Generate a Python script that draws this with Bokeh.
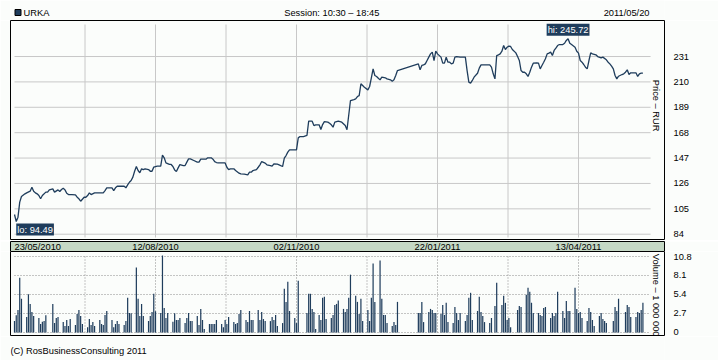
import math
from bokeh.plotting import figure
from bokeh.layouts import column
from bokeh.models import Range1d, FixedTicker, Label
from bokeh.core.properties import value
from bokeh.embed import file_html
from bokeh.resources import INLINE

# ---------------- texts ----------------
ticker_name = "URKA"
session_text = "Session: 10:30 – 18:45"
date_text = "2011/05/20"
credit_text = "(C) RosBusinessConsulting 2011"
price_title = "Price – RUR"
volume_title = "Volume – 1 000 000"

# ---------------- axes ----------------
date_tick_days = [0, 81, 162, 243, 324]          # days since 24/05/2010
date_labels = ["23/05/2010", "12/08/2010", "02/11/2010", "22/01/2011", "13/04/2011"]
price_ticks = [84, 105, 126, 147, 168, 189, 210, 231]
volume_ticks = [0, 2.7, 5.4, 8.1, 10.8]
volume_tick_labels = ["0", "2.7", "5.4", "8.1", "10.8"]

# ---------------- price (RUR), day index ----------------
price_day = [
    0, 1, 2, 3, 4, 6, 7, 9, 10, 11, 12, 13, 14, 15, 16, 18, 19, 20, 22, 23,
    25, 26, 27, 28, 29, 30, 31, 33, 35, 36, 37, 38, 40, 41, 42, 43, 44, 46, 47, 49,
    51, 52, 53, 55, 56, 57, 58, 59, 61, 63, 64, 65, 66, 67, 68, 69, 70, 71, 72, 73,
    74, 75, 77, 78, 79, 80, 82, 84, 85, 86, 87, 89, 90,
    91, 92, 93, 94, 95, 97, 98, 99, 100, 101, 103, 105, 106, 107, 108, 110, 111, 113, 114, 115,
    116, 117, 119, 121, 122, 123, 124, 126, 127, 129, 130, 132, 134, 135, 136, 137, 139, 140, 141, 142,
    144, 145, 147, 148, 149, 151, 152, 154, 155, 156, 157, 158, 162, 163, 164, 166, 168, 169, 171, 172,
    173, 175, 176, 177, 178, 180, 181, 182, 183, 184,
    186, 188, 190, 191,
    193, 195, 196, 197, 198, 199, 200, 201, 203, 204, 205, 206, 207, 208, 209, 210, 211, 213, 214, 216,
    217, 218, 219, 220, 232, 233, 234, 235, 236, 237, 238, 239, 240, 241, 242, 243, 245, 246, 247, 248,
    249, 250, 251, 252, 253, 254, 256, 257, 259, 260, 261, 262, 263, 264, 266, 267, 268, 270, 272, 273,
    274, 275,
    276, 277, 278, 279, 280, 281, 282, 283, 284, 285, 286, 288, 289, 290, 291, 292, 293, 294, 295, 296,
    297, 298, 300, 301, 302, 303, 304, 305, 306, 307, 308, 309, 310, 311, 312, 313, 315, 316, 317, 318,
    319, 320, 322, 323, 324, 325, 326, 327, 328, 329, 330, 331, 332, 334, 335, 337, 338, 340, 341, 342,
    343, 344, 345, 346, 347, 349, 350, 351, 352, 353, 354, 357, 358, 359, 360, 361,
]
price = [
    100.3, 94.49, 98.1, 110.5, 115.2, 117.4, 118.2, 119.6, 122.9, 119.6, 118.2, 117.4, 116.0, 113.3, 116.0, 118.8, 118.8, 120.7, 121.5, 118.8,
    120.7, 119.3, 121.0, 122.1, 120.7, 117.9, 116.8, 116.8, 116.6, 114.6, 113.3, 111.3, 114.6, 114.6, 116.0, 118.2, 116.8, 118.2, 118.2, 118.2,
    118.2, 120.1, 122.4, 122.4, 122.4, 120.1, 122.4, 123.7, 123.7, 123.7, 122.4, 124.8, 127.0, 128.4, 131.2, 136.1, 140.0, 136.7, 134.8, 138.1,
    137.5, 138.1, 137.5, 136.1, 136.1, 139.5, 140.3, 140.3, 149.4, 147.2, 143.0, 141.7, 141.7,
    140.0, 137.2, 135.9, 138.9, 141.6, 140.8, 140.8, 143.6, 146.3, 146.3, 145.0, 143.6, 143.6, 146.1, 146.1, 146.1, 147.2, 147.2, 146.1, 144.1,
    143.3, 143.0, 143.0, 143.0, 139.4, 137.5, 138.1, 138.1, 136.7, 134.5, 133.9, 133.7, 133.1, 135.3, 135.3, 136.7, 137.5, 139.4, 141.4, 144.1,
    142.8, 141.4, 140.8, 140.3, 142.2, 141.9, 141.4, 140.0, 146.9, 149.1, 151.9, 153.8, 153.8, 163.7, 164.8, 164.8, 165.7, 177.5, 177.5, 173.9,
    174.5, 174.5, 170.6, 174.7, 177.2, 176.7, 175.8, 174.5, 172.5, 176.7,
    177.5, 176.7, 173.9, 170.4,
    194.6, 195.4, 196.0, 197.9, 198.7, 208.4, 207.0, 205.6, 203.4, 206.2, 213.4, 220.8, 215.3, 214.5, 213.1, 211.7, 213.9, 213.4, 212.5, 211.7,
    210.6, 211.7, 215.3, 219.4, 224.9, 220.0, 223.6, 224.1, 224.9, 227.7, 230.5, 233.2, 234.6, 227.7, 235.4, 233.2, 230.5, 225.5, 225.5, 230.5,
    226.3, 226.3, 224.9, 225.5, 230.5, 231.0, 230.5, 230.5, 230.5, 219.4, 209.8, 208.9, 211.2, 213.9, 217.2, 221.4, 224.1, 224.1, 224.1, 224.1,
    222.2, 216.7,
    212.5, 231.8, 232.4, 233.2, 235.4, 240.1, 236.8, 238.7, 239.6, 239.3, 236.8, 234.0, 231.0, 227.7, 219.4, 218.0, 218.0, 216.7, 214.5, 218.0,
    222.2, 225.5, 225.8, 225.5, 220.8, 223.6, 226.3, 229.1, 233.2, 233.8, 234.6, 231.8, 236.0, 237.9, 240.1, 240.9, 240.9, 242.0, 244.3, 245.72,
    242.0, 240.9, 238.7, 235.4, 233.8, 227.7, 226.3, 224.4, 222.2, 220.8, 227.7, 234.0, 233.2, 232.4, 231.0, 229.9, 230.5, 228.3, 226.3, 224.9,
    223.0, 220.8, 215.3, 212.5, 214.7, 216.1, 216.7, 218.0, 220.0, 216.1, 217.5, 217.5, 214.5, 216.7, 217.2, 217.2,
]

# ---------------- volume (millions), day index ----------------
vol_day = [
    0, 1, 2, 3, 4, 7, 8, 9, 10, 11, 14, 15, 16, 17, 18, 22, 23, 24, 25,
    28, 29, 30, 31, 32, 35, 36, 37, 38, 39, 42, 43, 44, 45, 46, 49, 50, 51, 52, 53,
    56, 57, 58, 59, 60, 63, 64, 65, 66, 67, 70, 71, 72, 73, 74, 77, 78, 79, 80, 81,
    84, 85, 86, 87, 88, 91, 92, 93, 94, 95, 98, 99, 100, 101, 102, 105, 106, 107, 108, 109,
    112, 113, 114, 115, 116, 119, 120, 121, 122, 123, 126, 127, 128, 129, 130,
    133, 134, 135, 136, 137, 140, 141, 142, 143, 144, 147, 148, 149, 150, 151,
    154, 155, 156, 157, 158, 161, 162, 163, 168, 169, 170, 171, 172, 173,
    175, 176, 177, 178, 179, 182, 183, 184, 185, 186, 189, 190, 191, 192, 193,
    196, 197, 198, 199, 200, 203, 204, 205, 206, 207, 210, 211, 212, 213, 214, 217, 218, 219, 220,
    232, 233, 234, 235, 238, 239, 240, 241, 242, 245, 246, 247, 248, 249,
    252, 253, 254, 255, 256, 259, 260, 261, 262, 263, 266, 267, 268, 269, 270,
    273, 274, 276, 277, 280, 281, 282, 283, 284, 285, 289, 290, 291,
    294, 295, 296, 297, 298, 301, 302, 303, 304, 305, 308, 309, 310, 311, 312,
    315, 316, 317, 318, 319, 322, 323, 324, 325, 326, 329, 330, 331, 332, 333,
    336, 337, 338, 339, 340, 344, 345, 346, 347, 351, 352, 353, 354,
    357, 358, 359, 360, 361,
]
vol = [
    1.62, 2.44, 3.20, 7.79, 4.78, 2.20, 5.45, 4.06, 2.92, 2.34, 2.06, 1.19, 1.53, 1.62, 2.44, 4.06, 1.34, 2.06, 2.20,
    1.48, 0.91, 1.77, 0.91, 1.91, 1.05, 2.63, 3.20, 2.34, 1.19, 0.76, 1.91, 1.05, 1.48, 0.91, 1.77, 1.19, 1.05, 2.49, 3.06,
    1.77, 0.76, 1.19, 1.62, 1.19, 1.05, 1.62, 4.92, 2.77, 2.72, 9.22, 4.78, 2.34, 4.06, 2.34, 1.62, 2.34, 2.92, 5.50, 3.01,
    2.77, 10.95, 3.49, 2.06, 2.77, 1.53, 2.72, 1.77, 1.77, 2.06, 1.34, 2.06, 2.77, 1.62, 1.62, 2.34, 1.05, 3.35, 1.77, 0.48,
    1.19, 1.19, 1.19, 1.19, 1.77, 1.19, 0.76, 1.77, 1.19, 2.20, 1.48, 1.19, 1.34, 2.63, 3.20,
    1.77, 1.48, 3.06, 1.77, 1.77, 3.20, 1.77, 2.92, 1.91, 1.62, 1.62, 2.20, 1.77, 2.49, 0.91,
    1.34, 6.21, 4.35, 7.22, 3.06, 2.06, 1.34, 7.36, 2.77, 5.50, 5.50, 3.35, 2.92, 0.48,
    2.49, 1.77, 4.92, 5.07, 1.91, 2.06, 2.49, 3.92, 4.06, 4.54, 3.35, 2.92, 3.35, 4.92, 8.22,
    5.21, 4.35, 2.63, 4.78, 1.62, 3.20, 1.62, 4.92, 9.80, 4.35, 10.23, 4.78, 2.49, 2.49, 1.34, 0.91, 1.48, 1.05, 4.35,
    2.77, 2.77, 4.35, 1.48, 2.92, 3.35, 3.20, 2.77, 2.77, 2.63, 3.92, 2.49, 4.21, 1.48,
    1.34, 3.63, 2.77, 1.77, 2.77, 1.62, 2.49, 4.92, 5.64, 1.77, 3.06, 5.07, 2.92, 2.34, 1.48,
    1.34, 2.06, 3.78, 7.07, 3.92, 5.21, 4.21, 1.77, 2.06, 0.76, 3.20, 3.78, 3.63,
    5.35, 6.36, 5.78, 4.21, 2.77, 2.77, 2.49, 2.34, 3.49, 3.63, 2.06, 2.77, 2.34, 2.77, 5.78,
    3.06, 2.06, 4.49, 3.06, 3.06, 6.36, 3.35, 2.77, 2.92, 2.06, 1.62, 3.49, 2.92, 1.77, 0.91,
    2.34, 2.77, 1.91, 1.62, 1.34, 1.62, 3.63, 3.06, 4.78, 2.92, 3.92, 3.63, 2.20,
    2.20, 2.92, 2.77, 3.20, 4.21,
]

# ---------------- styling ----------------
INK = "#1f3d5c"
BG = "#fbfdfb"
STRIP = "#c5d8c5"
GRID = "#c8c8c8"
DOTS = "#8c8c8c"
FONT = "Liberation Sans"
FS = "9.3px"
W = 718
FRAME_L, FRAME_R = 10, 664      # frame edges (canvas px) shared by every row

x_range = Range1d(-2.3, 373.4)
GRID_END = 365.4
grid_days = sorted(set(date_tick_days[1:] +
                       [(a + b) / 2 for a, b in zip(date_tick_days, date_tick_days[1:])]))


def base(height, y_range, fill, with_axis, xr=None, outline="black"):
    f = figure(width=W, height=height, x_range=(xr or x_range), y_range=y_range, title=None,
               x_axis_location=None, y_axis_location=("right" if with_axis else None),
               output_backend="svg", toolbar_location=None, tools="",
               min_border_left=FRAME_L, min_border_right=W - FRAME_R,
               min_border_top=0, min_border_bottom=0,
               background_fill_color=fill, border_fill_color=BG,
               outline_line_color=outline, outline_line_width=1)
    f.grid.visible = False
    if with_axis:
        ax = f.yaxis[0]
        ax.axis_line_color = None
        ax.major_tick_line_color = None
        ax.minor_tick_line_color = None
        ax.major_tick_out = 0
        ax.major_tick_in = 0
        ax.major_label_standoff = 9
        ax.major_label_text_font = FONT
        ax.major_label_text_font_size = FS
        ax.major_label_text_color = "black"
    return f


def txt(fig, x, y, text, align="left"):
    fig.text(x=[x], y=[y], text=[text], text_align=align, text_baseline="middle",
             text_font=value(FONT), text_font_size=value(FS), text_color="black")


def screen_label(fig, x, y, text, **kw):
    fig.add_layout(Label(x=x, y=y, x_units="screen", y_units="screen", text=text,
                         text_font=FONT, text_font_size=FS, text_color="black", **kw))


# ---------------- header row: canvas pixels (x 10..664 frame, y 0..20 top-down) ----------------
h = base(20, Range1d(20, 0), BG, False, xr=Range1d(FRAME_L, FRAME_R), outline=None)
h.quad(left=[14.5], right=[20.5], top=[9], bottom=[15],
       fill_color=INK, line_color="black", line_width=1)
txt(h, 23, 12.2, ticker_name)
txt(h, 331.3, 12.2, session_text, align="center")
txt(h, 649, 12.2, date_text, align="right")

# ---------------- price panel (canvas y 20..240) ----------------
p = base(220, Range1d(78.8, 260.8), BG, True)
p.yaxis[0].ticker = FixedTicker(ticks=price_ticks)
n = len(price_ticks)
p.segment(x0=[0] * n, x1=[GRID_END] * n, y0=price_ticks, y1=price_ticks,
          line_color=GRID, line_width=1)
m = len(grid_days)
p.segment(x0=grid_days, x1=grid_days, y0=[81.3] * m, y1=[257.5] * m,
          line_color=GRID, line_width=1)
p.line(price_day, price, line_color=INK, line_width=1.3)

i_hi = max(range(len(price)), key=price.__getitem__)
i_lo = min(range(len(price)), key=price.__getitem__)
p.add_layout(Label(x=price_day[i_hi], y=price[i_hi], text=f"hi: {price[i_hi]:.2f}",
                   text_align="center", text_baseline="bottom", y_offset=3,
                   text_color="white", background_fill_color=INK, padding=1,
                   text_font=FONT, text_font_size=FS))
p.add_layout(Label(x=price_day[i_lo], y=price[i_lo], text=f"lo: {price[i_lo]:.2f}",
                   text_align="left", text_baseline="top", y_offset=-2,
                   text_color="white", background_fill_color=INK, padding=1,
                   text_font=FONT, text_font_size=FS))
screen_label(p, 645.5, 160.7, price_title, angle=-math.pi / 2,
             text_align="left", text_baseline="middle")

# ---------------- date strip (canvas y 240..251) ----------------
s = base(11, Range1d(0, 1), STRIP, False)
s.text(x=date_tick_days[:1], y=[0.5], text=date_labels[:1],
       text_align="left", text_baseline="middle",
       text_font=value(FONT), text_font_size=value(FS), text_color="black")
k = len(date_tick_days) - 1
s.text(x=date_tick_days[1:], y=[0.5] * k, text=date_labels[1:],
       text_align="center", text_baseline="middle",
       text_font=value(FONT), text_font_size=value(FS), text_color="black")

# ---------------- volume panel (canvas y 251..336) ----------------
v = base(85, Range1d(-0.57, 11.51), BG, True)
v.yaxis[0].ticker = FixedTicker(ticks=volume_ticks)
v.yaxis[0].major_label_overrides = dict(zip(volume_ticks, volume_tick_labels))
nv = len(volume_ticks)
v.segment(x0=[0] * nv, x1=[GRID_END] * nv, y0=volume_ticks, y1=volume_ticks,
          line_color=DOTS, line_width=1, line_dash="1 2")
v.segment(x0=grid_days, x1=grid_days, y0=[volume_ticks[0]] * m, y1=[volume_ticks[-1]] * m,
          line_color=DOTS, line_width=1, line_dash="1 2")
v.vbar(x=vol_day, top=vol, bottom=0, width=0.7, fill_color=INK, line_color=None)
screen_label(v, 645.5, 82.7, volume_title, angle=-math.pi / 2,
             text_align="left", text_baseline="middle")

# ---------------- footer row: canvas pixels (y 336..360) ----------------
f = base(24, Range1d(360, 336), BG, False, xr=Range1d(FRAME_L, FRAME_R), outline=None)
txt(f, 10, 350, credit_text)

layout = column(h, p, s, v, f, spacing=0)
open("out.html", "w").write(file_html(layout, INLINE))
